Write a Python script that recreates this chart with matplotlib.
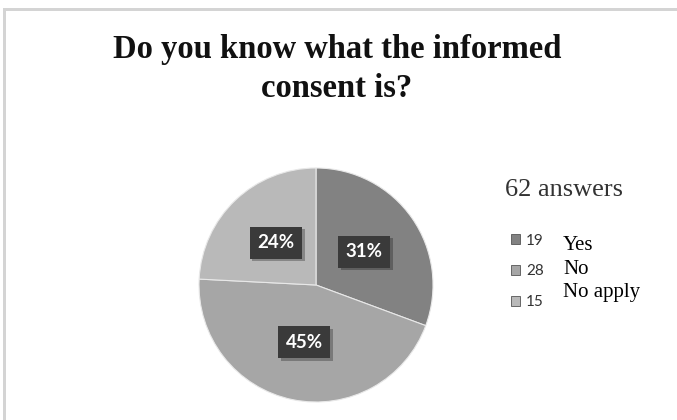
import numpy as np
import matplotlib.pyplot as plt
import matplotlib.patheffects as pe
from matplotlib.patches import Rectangle

#--------------------------------------------------------------------------------------------------------------------------------
# Datos de la encuesta
categorias = ['Yes', 'No', 'No apply']
respuestas = [19, 28, 15]
total = sum(respuestas)
titulo = 'Do you know what the informed\nconsent is?'

colores = ['#828282', '#a6a6a6', '#b9b9b9']

#--------------------------------------------------------------------------------------------------------------------------------
fig = plt.figure(figsize=(6.77, 4.2), dpi=100)
fig.patch.set_facecolor('white')
W, H = 677, 420

# marco gris arriba y a la izquierda
fig.add_artist(Rectangle((3/W, 0), 3/W, (H-8)/H, transform=fig.transFigure,
                         facecolor='#d4d4d4', edgecolor='none'))
fig.add_artist(Rectangle((3/W, (H-11)/H), (W-3)/W, 3/H, transform=fig.transFigure,
                         facecolor='#d4d4d4', edgecolor='none'))

fig.text(337/W, 1-69/H, titulo, ha='center', va='center', family='Liberation Serif',
         fontweight='bold', fontsize=23.5, color='#111111', linespacing=1.3)

#--------------------------------------------------------------------------------------------------------------------------------
# Grafico de pastel, centro en (316, 285) px
ax = fig.add_axes([(316-120)/W, (H-285-120)/H, 240/W, 240/H])

cuñas, _, pcts = ax.pie(respuestas, colors=colores, startangle=90, counterclock=False,
                        radius=1.17, autopct=lambda p: '%d%%' % round(p), pctdistance=0.5,
                        wedgeprops=dict(edgecolor='#e8e8e8', linewidth=0.8))
ax.set_xlim(-1.2, 1.2)
ax.set_ylim(-1.2, 1.2)
ax.axis('off')

for t in pcts:
    t.set(color='white', fontweight='bold', fontsize=13.5, family='Lato')
    t.set_bbox(dict(boxstyle='square,pad=0.4', facecolor='#3a3a3a', edgecolor='none'))
    t.get_bbox_patch().set_path_effects([pe.SimplePatchShadow(offset=(2, -2), alpha=0.3),
                                         pe.Normal()])

#--------------------------------------------------------------------------------------------------------------------------------
# Leyenda
fig.text(505/W, 1-190/H, '%d answers' % total, ha='left', va='center',
         family='Liberation Serif', fontsize=19, color='#333333')

leg = fig.legend(cuñas, [str(n) for n in respuestas], loc='upper left',
                 bbox_to_anchor=(503/W, 1-226/H), frameon=False,
                 prop=dict(family='Lato', size=11),
                 handlelength=0.6, handleheight=0.6, handletextpad=0.4,
                 labelspacing=1.1, borderpad=0)
for h in leg.legend_handles:
    h.set_edgecolor('#555555')
    h.set_linewidth(0.6)
for t in leg.get_texts():
    t.set_color('#333333')

ys = [245, 269, 292]
for c, y in zip(categorias, ys):
    fig.text(563/W, 1-y/H, c, ha='left', va='center', family='Liberation Serif',
             fontsize=15, color='black')

plt.savefig('out.png', dpi=100)
